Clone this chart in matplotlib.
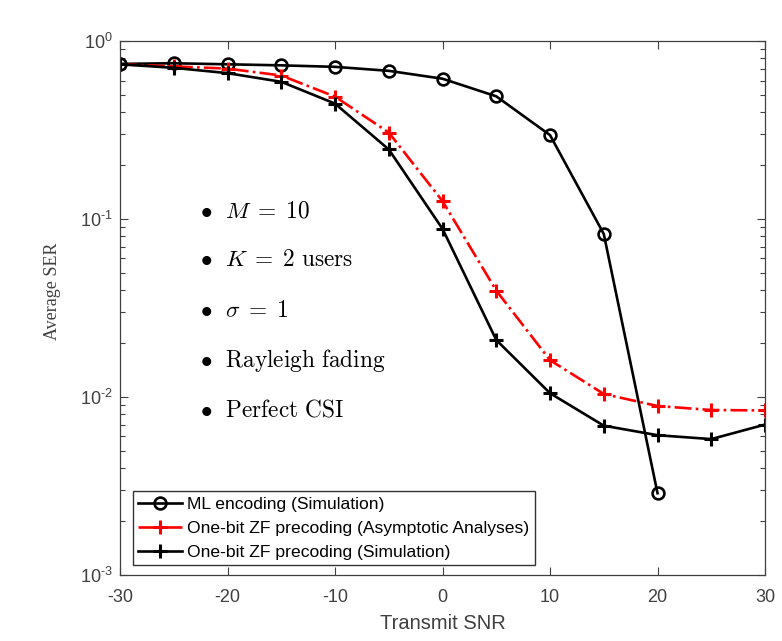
import numpy as np
import matplotlib
matplotlib.use('Agg')
import matplotlib.pyplot as plt
from matplotlib.ticker import FixedLocator, LogLocator, FuncFormatter, NullFormatter

# ── Data ──────────────────────────────────────────────────────────────────────
snr_ml   = [-30, -25, -20, -15, -10, -5, 0, 5, 10, 15, 20]
ser_ml   = [0.744, 0.75, 0.74, 0.73, 0.716, 0.68, 0.614, 0.489, 0.296, 0.0824, 0.00288]

snr_zf   = [-30, -25, -20, -15, -10, -5, 0, 5, 10, 15, 20, 25, 30]
ser_asym = [0.74, 0.72, 0.70, 0.64, 0.487, 0.306, 0.126, 0.0396, 0.0161, 0.0104, 0.0089, 0.00845, 0.0084]
ser_sim  = [0.74, 0.707, 0.66, 0.59, 0.445, 0.246, 0.088, 0.0209, 0.0105, 0.0069, 0.0061, 0.0058, 0.0070]

legend_labels = ['ML encoding (Simulation)',
                 'One-bit ZF precoding (Asymptotic Analyses)',
                 'One-bit ZF precoding (Simulation)']
notes = [r'$\bullet\ \ M\;=\;10$',
         r'$\bullet\ \ K\;=\;2\ \mathrm{users}$',
         r'$\bullet\ \ \sigma\;=\;1$',
         r'$\bullet\ \ \mathrm{Rayleigh\ fading}$',
         r'$\bullet\ \ \mathrm{Perfect\ CSI}$']
note_y = [0.111, 0.0589, 0.0308, 0.0161, 0.00845]

# ── Style ─────────────────────────────────────────────────────────────────────
plt.rcParams['font.family'] = ['Liberation Sans', 'DejaVu Sans']
plt.rcParams['mathtext.fontset'] = 'custom'
plt.rcParams['mathtext.rm'] = 'Liberation Sans'
plt.rcParams['mathtext.it'] = 'Liberation Sans:italic'
plt.rcParams['axes.unicode_minus'] = False
AX_COL = '#404040'

fig = plt.figure(figsize=(7.82, 6.41), dpi=100)
ax = fig.add_axes([0.1535, 0.103, 0.8248, 0.833])

ax.plot(snr_ml, ser_ml, '-o', color='black', lw=1.9, ms=8.5, mew=1.9,
        mfc='none', label=legend_labels[0])
ax.plot(snr_zf, ser_asym, '-.+', color='red', lw=1.9, ms=10, mew=2.2,
        label=legend_labels[1])
ax.plot(snr_zf, ser_sim, '-+', color='black', lw=1.9, ms=10, mew=2.2,
        label=legend_labels[2])

ax.set_yscale('log')
ax.set_xlim(-30, 30)
ax.set_ylim(1e-3, 1)
ax.xaxis.set_major_locator(FixedLocator([-30, -20, -10, 0, 10, 20, 30]))
ax.yaxis.set_major_locator(FixedLocator([1e-3, 1e-2, 1e-1, 1]))
ax.yaxis.set_minor_locator(LogLocator(base=10, subs=np.arange(2, 10)))
ax.yaxis.set_minor_formatter(NullFormatter())
ax.yaxis.set_major_formatter(FuncFormatter(
    lambda v, p: r'$10^{\text{%d}}$' % int(round(np.log10(v)))))

ax.tick_params(which='both', direction='in', top=True, right=True,
               colors=AX_COL, labelsize=13)
ax.tick_params(axis='x', pad=10)
ax.tick_params(axis='y', pad=5)
ax.tick_params(which='major', length=6, width=0.8)
ax.tick_params(which='minor', length=3.5, width=0.8)
for s in ax.spines.values():
    s.set_color(AX_COL)
    s.set_linewidth(0.9)

ax.set_xlabel('Transmit SNR', fontsize=14.5, color=AX_COL, labelpad=6)
ax.set_ylabel('Average SER', fontsize=13, family='Liberation Serif',
              color=AX_COL)
ax.yaxis.set_label_coords(-0.091, 0.532)

for txt, yv in zip(notes, note_y):
    ax.text(-22.6, yv, txt, fontsize=16.8, math_fontfamily='cm',
            va='center', ha='left', color='black')

leg = ax.legend(loc='lower left', bbox_to_anchor=(13 / 645, 10 / 534),
                fontsize=12.6, frameon=True, fancybox=False,
                edgecolor='black', handlelength=2.5, handletextpad=0.3,
                borderpad=0.3, labelspacing=0.5, borderaxespad=0.0)
leg.get_frame().set_linewidth(1.0)

fig.savefig('out.png', dpi=100)
